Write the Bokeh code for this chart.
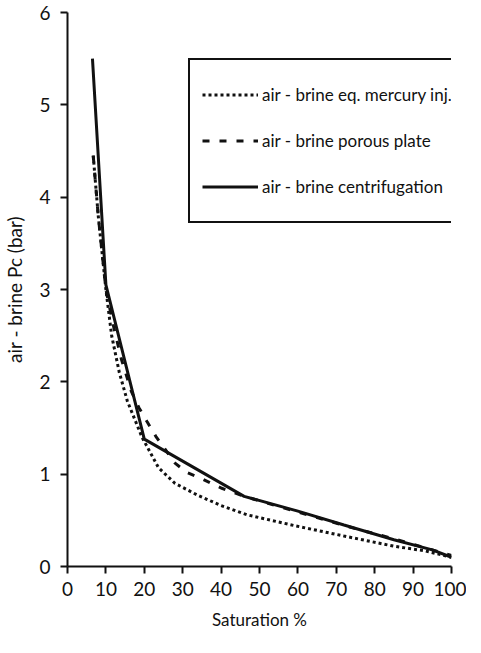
from bokeh.plotting import figure
from bokeh.models import Legend, LegendItem, Range1d, FixedTicker
from bokeh.embed import file_html
from bokeh.resources import INLINE

# Data
sat_mercury = [6.7, 8, 10, 11.5, 13.5, 15.6, 19.4, 23.7, 28, 34, 40, 46.7, 59.4, 72, 85, 93, 100]
pc_mercury = [4.45, 3.8, 3.0, 2.5, 2.1, 1.79, 1.4, 1.07, 0.9, 0.77, 0.66, 0.56, 0.44, 0.33, 0.22, 0.17, 0.1]

sat_plate = [6.7, 8, 10, 12, 14, 16.6, 18.6, 20.7, 23, 28, 31, 35, 40, 46, 55, 65, 75, 85, 95, 100]
pc_plate = [4.45, 3.8, 3.0, 2.6, 2.25, 1.9, 1.72, 1.57, 1.41, 1.12, 1.02, 0.95, 0.85, 0.76, 0.65, 0.53, 0.41, 0.3, 0.18, 0.12]

sat_centri = [6.5, 10, 20, 46, 60, 72, 85, 95, 100]
pc_centri = [5.5, 3.05, 1.38, 0.76, 0.6, 0.45, 0.29, 0.18, 0.1]

x_ticks = [0, 10, 20, 30, 40, 50, 60, 70, 80, 90, 100]
y_ticks = [0, 1, 2, 3, 4, 5, 6]

FONT = "Lato"

p = figure(width=466, height=642, output_backend="svg", toolbar_location=None,
           x_range=Range1d(0, 100), y_range=Range1d(0, 6),
           min_border_left=59, min_border_right=15, min_border_top=12, min_border_bottom=76)
p.outline_line_color = None
p.grid.visible = False

for ax in (p.xaxis[0], p.yaxis[0]):
    ax.axis_line_width = 2
    ax.axis_line_color = "#111111"
    ax.major_tick_line_width = 2
    ax.major_tick_line_color = "#111111"
    ax.minor_tick_line_color = None
    ax.major_tick_in = 0
    ax.major_tick_out = 7
    ax.major_label_text_font = FONT
    ax.major_label_text_font_size = "19px"
    ax.major_label_text_color = "#111111"
    ax.axis_label_text_font = FONT
    ax.axis_label_text_font_style = "normal"
    ax.axis_label_text_color = "#111111"

p.xaxis.ticker = FixedTicker(ticks=x_ticks)
p.yaxis.ticker = FixedTicker(ticks=y_ticks)
p.xaxis.axis_label = "Saturation %"
p.yaxis.axis_label = "air - brine Pc (bar)"
p.xaxis.axis_label_text_font_size = "17px"
p.yaxis.axis_label_text_font_size = "19px"
p.xaxis.major_label_standoff = 8
p.yaxis.major_label_standoff = 10
p.xaxis.axis_label_standoff = 10
p.yaxis.axis_label_standoff = 10

r1 = p.line(sat_mercury, pc_mercury, line_color="#111111", line_width=3, line_dash="3 3")
r2 = p.line(sat_plate, pc_plate, line_color="#111111", line_width=3, line_dash="7 10")
r3 = p.line(sat_centri, pc_centri, line_color="#111111", line_width=3)

legend = Legend(items=[
    LegendItem(label="air - brine eq. mercury inj.", renderers=[r1]),
    LegendItem(label="air - brine porous plate", renderers=[r2]),
    LegendItem(label="air - brine centrifugation", renderers=[r3]),
], location=(121, 343))
legend.label_text_font = FONT
legend.label_text_font_size = "17px"
legend.label_text_color = "#111111"
legend.glyph_width = 56
legend.glyph_height = 45
legend.label_height = 45
legend.spacing = 1
legend.padding = 12
legend.margin = 0
legend.label_standoff = 4
legend.border_line_color = "#111111"
legend.border_line_alpha = 1
legend.border_line_width = 2
legend.background_fill_alpha = 1
p.add_layout(legend)

open("out.html", "w").write(file_html(p, INLINE))
